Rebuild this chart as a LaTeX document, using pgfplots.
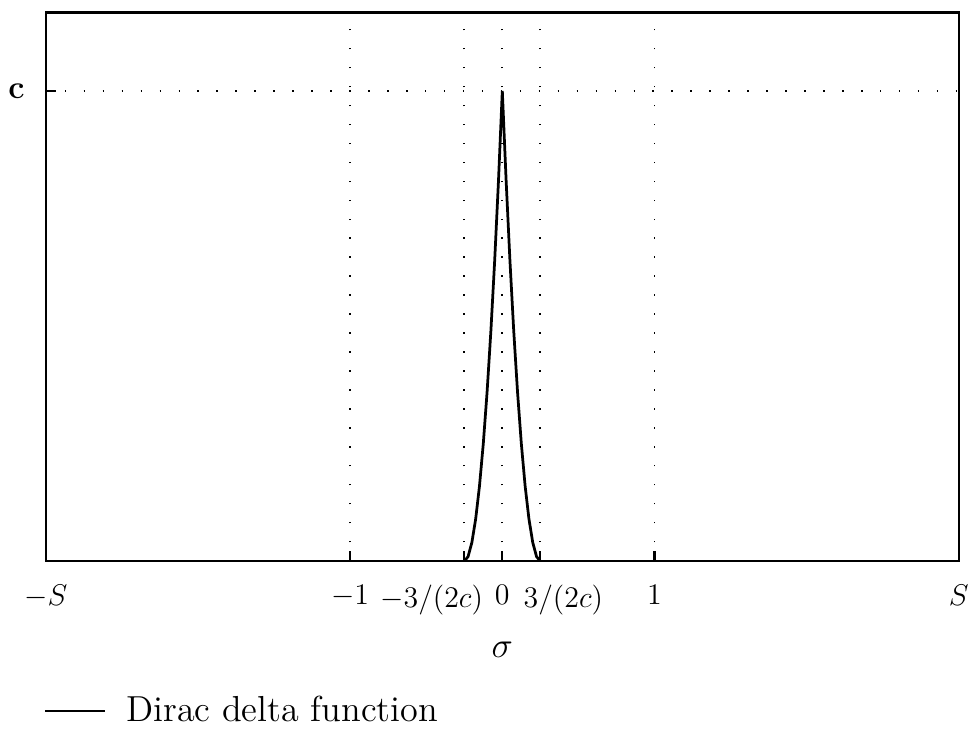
\documentclass[border=0pt]{standalone}
\usepackage{pgfplots}
\pgfplotsset{compat=1.18}
\begin{document}
\begin{tikzpicture}
\begin{axis}[
  scale only axis,
  width=366pt, height=220pt,
  xmin=-3, xmax=3, ymin=0, ymax=7,
  axis line style={line width=0.9pt},
  xtick={-3,-1,-0.25,0,0.25,1,3},
  xticklabels={$-S$,$-1$,\hspace*{15pt}\llap{$-3/(2c)$},$0$,\rlap{$3/(2c)$}\hspace*{13.4pt},$1$,$S$},
  ytick={6}, yticklabels={\textbf{c}},
  tick align=inside,
  xtick pos=bottom, ytick pos=left,
  major tick length=4pt,
  tick style={line width=0.9pt, black},
  xmajorgrids, ymajorgrids,
  grid style={black, line width=0.7pt, dash pattern=on 0.6pt off 7pt},
  tick label style={font=\fontsize{12}{14}\selectfont},
  xticklabel style={yshift=-6pt},
  yticklabel style={xshift=-5pt, font=\fontsize{13}{15}\selectfont},
  xlabel={$\sigma$},
  xlabel style={font=\fontsize{14}{16}\selectfont, yshift=-4pt},
  legend style={at={(rel axis cs:0,0)}, anchor=north west, xshift=-4pt, yshift=-50pt,
    draw=none, fill=none, font=\fontsize{14.5}{16}\selectfont},
  legend cell align=left,
  legend image code/.code={\draw[#1] (0pt,0pt) -- (24pt,0pt); \path (30pt,0pt);},
]
\addplot[black, line width=1.1pt] coordinates {
(-0.25,0) (-0.225,0.06) (-0.2,0.24) (-0.175,0.54) (-0.15,0.96) (-0.125,1.5)
(-0.1,2.16) (-0.075,2.94) (-0.05,3.84) (-0.025,4.86) (0,6.0)
(0.025,4.86) (0.05,3.84) (0.075,2.94) (0.1,2.16) (0.125,1.5) (0.15,0.96)
(0.175,0.54) (0.2,0.24) (0.225,0.06) (0.25,0)
};
\addlegendentry{Dirac delta function}
\end{axis}
\path ([yshift=5pt]current axis.north);
\end{tikzpicture}
\end{document}
